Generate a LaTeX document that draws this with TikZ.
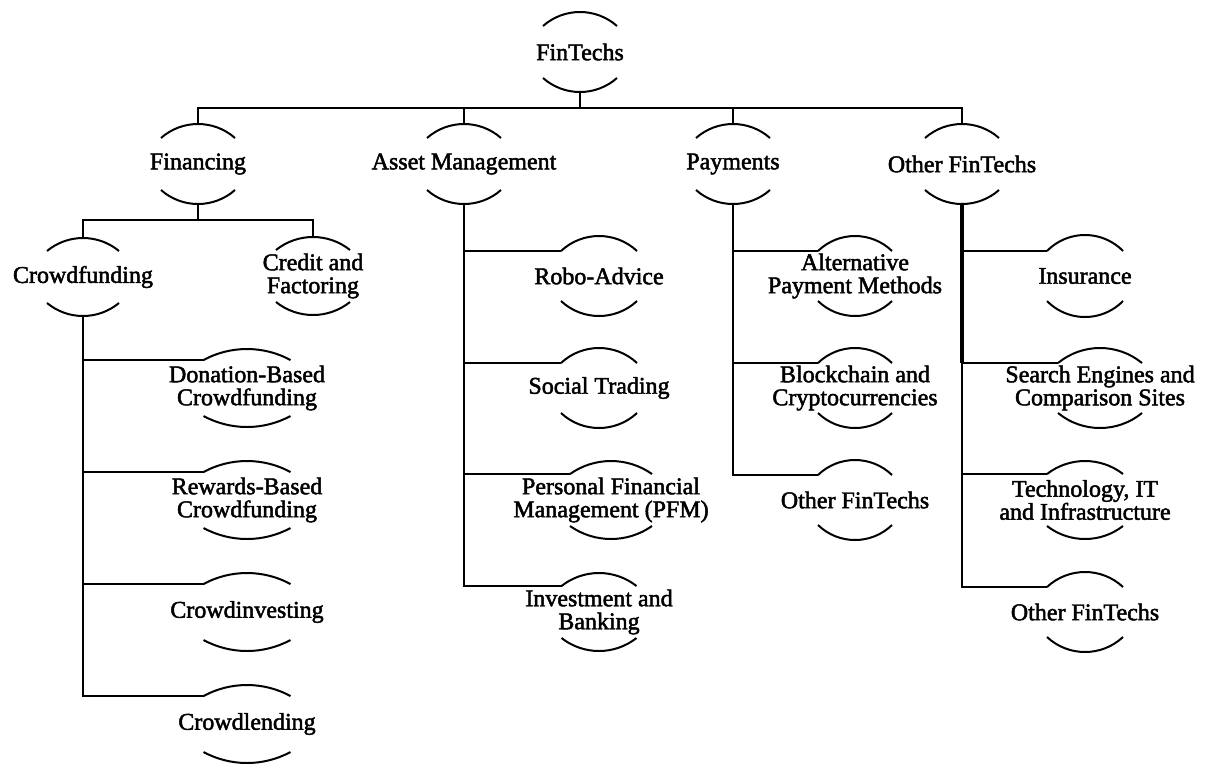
\documentclass[tikz,border=0pt]{standalone}
\usepackage{fontspec}
\newfontfamily\labfont[FakeBold=2]{Liberation Serif}
\tikzset{
  lab/.style={inner sep=0pt, align=center, font=\labfont\fontsize{24}{23}\selectfont},
  capline/.style={line width=2pt, black},
  conn/.style={line width=2.2pt, black}
}
% #1 node, #2 half width, #3 end offset, #4 apex offset
\newcommand\nodecaps[4]{%
  \pgfmathsetmacro\capS{#4-#3}%
  \pgfmathsetmacro\capR{(#2*#2+\capS*\capS)/(2*\capS)}%
  \pgfmathsetmacro\capA{asin(#2/\capR)}%
  \draw[capline] ([shift={(-#2,#3)}]#1.center) arc[start angle={90+\capA}, end angle={90-\capA}, radius=\capR pt];
  \draw[capline] ([shift={(-#2,-#3)}]#1.center) arc[start angle={270-\capA}, end angle={270+\capA}, radius=\capR pt];
  \coordinate (#1-t) at ([shift={(0,#4)}]#1.center);
  \coordinate (#1-b) at ([shift={(0,-#4)}]#1.center);
  \coordinate (#1-l) at ([shift={(-#2,#3)}]#1.center);
}
\begin{document}
\begin{tikzpicture}[x=1pt,y=1pt]
\useasboundingbox (0,0) rectangle (1206,-764);
% nodes
\node[lab] (root) at (580,-52) {FinTechs};
\node[lab] (fin) at (198,-164) {Financing};
\node[lab] (am) at (464,-164) {Asset Management};
\node[lab] (pay) at (733,-164) {Payments};
\node[lab] (oth) at (962,-164) {Other FinTechs};
\node[lab] (cf) at (83,-277) {Crowdfunding};
\node[lab] (cr) at (313,-276) {Credit and\\Factoring};
\node[lab] (don) at (247,-388) {Donation-Based\\Crowdfunding};
\node[lab] (rew) at (247,-500) {Rewards-Based\\Crowdfunding};
\node[lab] (cinv) at (247,-612) {Crowdinvesting};
\node[lab] (clend) at (247,-724) {Crowdlending};
\node[lab] (robo) at (599,-276) {Robo-Advice};
\node[lab] (soc) at (599,-388) {Social Trading};
\node[lab] (pfm) at (611,-500) {Personal Financial\\Management (PFM)};
\node[lab] (inv) at (599,-612) {Investment and\\Banking};
\node[lab] (apm) at (855,-276) {Alternative\\Payment Methods};
\node[lab] (bc) at (855,-388) {Blockchain and\\Cryptocurrencies};
\node[lab] (opay) at (855,-500) {Other FinTechs};
\node[lab] (ins) at (1085,-276) {Insurance};
\node[lab] (se) at (1100,-388) {Search Engines and\\Comparison Sites};
\node[lab] (tech) at (1085,-500) {Technology, IT\\and Infrastructure};
\node[lab] (ooth) at (1085,-612) {Other FinTechs};
% caps
\nodecaps{root}{37}{26}{40}
\nodecaps{fin}{37}{26}{40}
\nodecaps{am}{37}{26}{40}
\nodecaps{pay}{37}{26}{40}
\nodecaps{oth}{37}{26}{40}
\nodecaps{cf}{36}{26}{39}
\nodecaps{cr}{37}{26}{39}
\nodecaps{don}{43.5}{28}{39}
\nodecaps{rew}{43.5}{28}{39}
\nodecaps{cinv}{43.5}{28}{39}
\nodecaps{clend}{43.5}{28}{39}
\nodecaps{robo}{38}{25}{40}
\nodecaps{soc}{38}{25}{40}
\nodecaps{pfm}{41}{26}{39}
\nodecaps{inv}{37.5}{26}{39}
\nodecaps{apm}{37}{25}{40}
\nodecaps{bc}{37}{25}{40}
\nodecaps{opay}{37}{25}{40}
\nodecaps{ins}{38}{25}{41}
\nodecaps{se}{42}{25}{40}
\nodecaps{tech}{38}{26}{39}
\nodecaps{ooth}{38}{25}{40}
% bus levels
\coordinate (bus0) at (0,-108);
\coordinate (bus1) at (0,-220);
% connectors
\draw[conn] (root-b) -- (root-b |- bus0);
\draw[conn] (fin-t) -- (fin-t |- bus0) -- (oth-t |- bus0) -- (oth-t);
\draw[conn] (am-t) -- (am-t |- bus0);
\draw[conn] (pay-t) -- (pay-t |- bus0);
\draw[conn] (fin-b) -- (fin-b |- bus1);
\draw[conn] (cf-t) -- (cf-t |- bus1) -- (cr-t |- bus1) -- (cr-t);
% crowdfunding
\draw[conn] (cf-b) |- (clend-l);
\draw[conn] (cf-b |- don-l) -- (don-l);
\draw[conn] (cf-b |- rew-l) -- (rew-l);
\draw[conn] (cf-b |- cinv-l) -- (cinv-l);
% asset management
\draw[conn] (am-b) |- (inv-l);
\draw[conn] (am-b |- robo-l) -- (robo-l);
\draw[conn] (am-b |- soc-l) -- (soc-l);
\draw[conn] (am-b |- pfm-l) -- (pfm-l);
% payments
\draw[conn] (pay-b) |- (opay-l);
\draw[conn] (pay-b |- apm-l) -- (apm-l);
\draw[conn] (pay-b |- bc-l) -- (bc-l);
% other fintechs
\draw[conn, line width=3.6pt] (oth-b) -- (oth-b |- se-l);
\draw[conn] (oth-b |- se-l) |- (ooth-l);
\draw[conn] (oth-b |- ins-l) -- (ins-l);
\draw[conn] (oth-b |- se-l) -- (se-l);
\draw[conn] (oth-b |- tech-l) -- (tech-l);
\end{tikzpicture}
\end{document}
